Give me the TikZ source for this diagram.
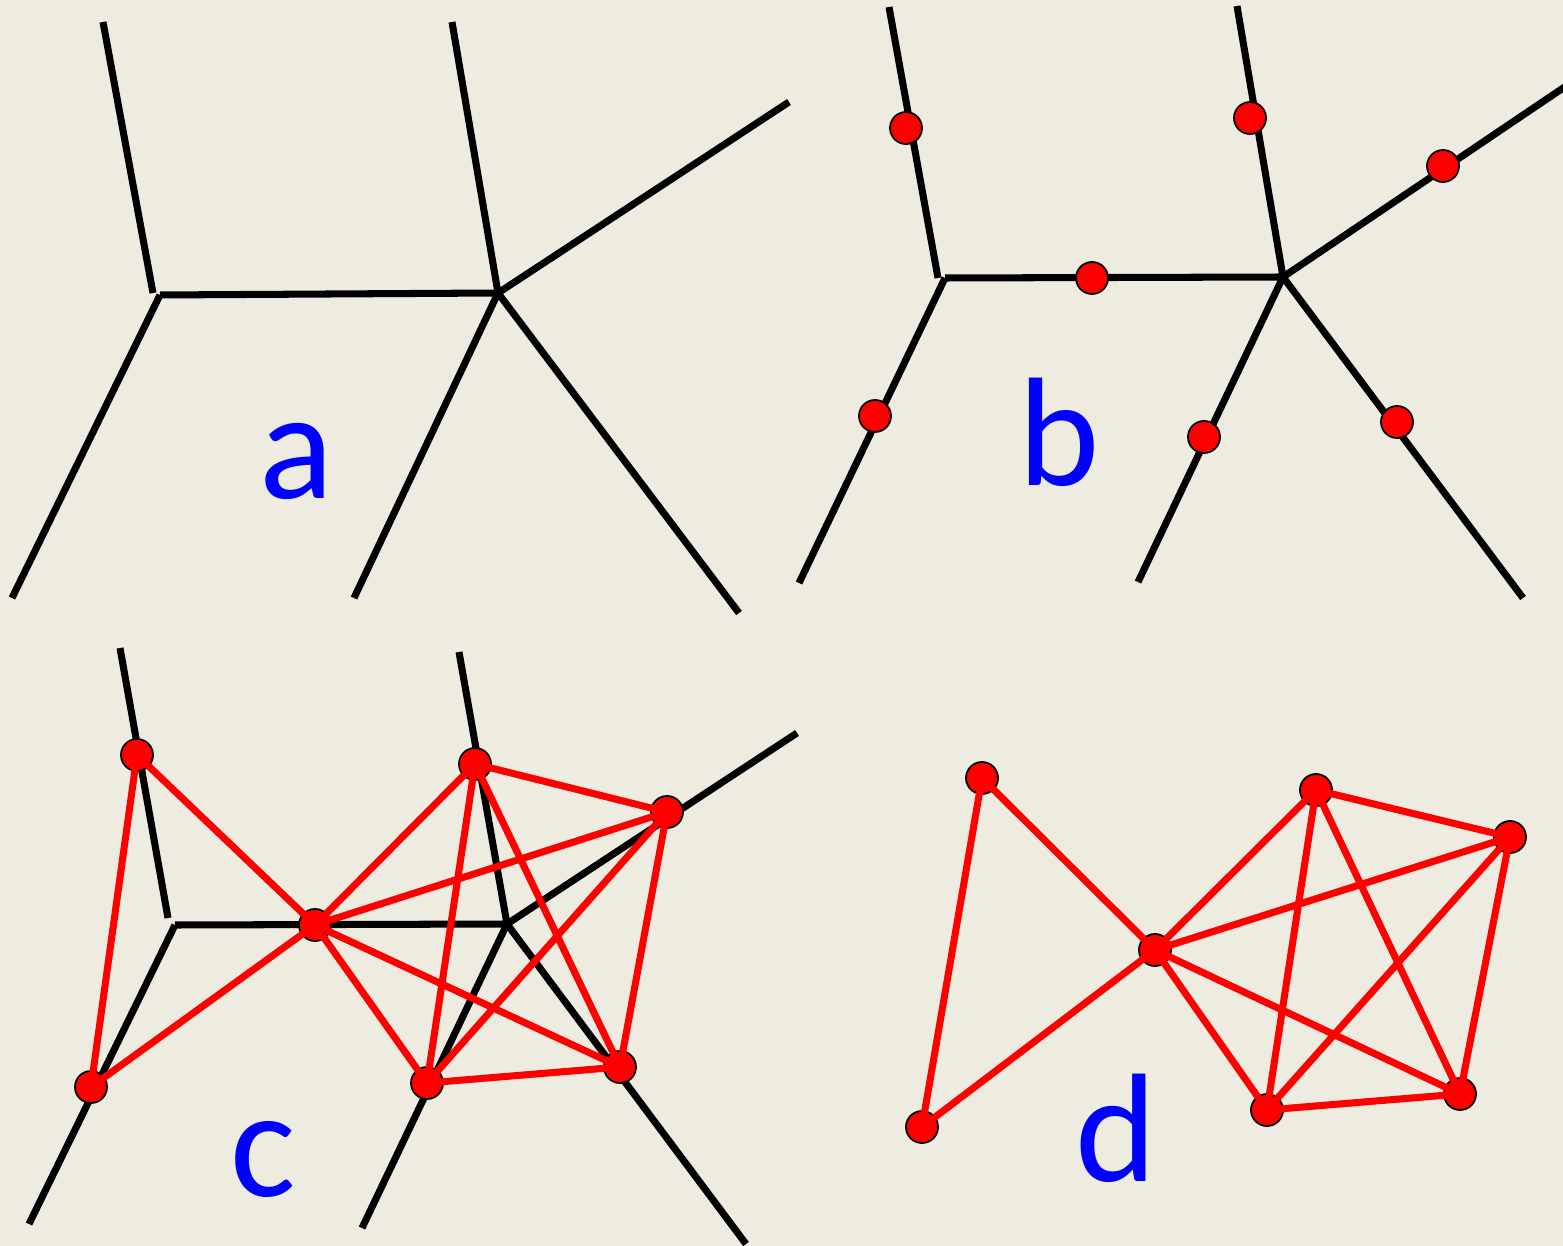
\documentclass[tikz,border=0pt]{standalone}
\usepackage{xcolor}
\usepackage{tikz}
\usepackage{fontspec}
\setmainfont{Carlito}
\definecolor{paperbg}{RGB}{238, 236, 225}
\definecolor{labelblue}{RGB}{0, 0, 255}
\definecolor{dotred}{RGB}{255, 0, 0}

\begin{document}
\begin{tikzpicture}[
        x=0.01cm, y=0.01cm,
        treeline/.style={line width=2pt, black},
        graphline/.style={line width=2pt, dotred},
        reddot/.style={circle, draw=black, line width=0.5pt, fill=dotred, minimum size=0.32cm, inner sep=0pt},
        panellabel/.style={anchor=base, inner sep=0pt, text=labelblue, font=\fontsize{44}{44}\selectfont}
    ]
        % Background
        \fill[paperbg] (0,0) rectangle (1563,-1246);
        \useasboundingbox (0,0) rectangle (1563,-1246);
        \clip (0,0) rectangle (1563,-1246);

        % Panel a: tree
        \coordinate (aL) at (160,-295);
        \coordinate (aLk) at (153,-293);
        \coordinate (aR) at (498,-293);
        \coordinate (aL1) at (103,-22);
        \coordinate (aL2) at (12,-598);
        \coordinate (aR1) at (452,-22);
        \coordinate (aR2) at (789,-102);
        \coordinate (aR3) at (354,-598);
        \coordinate (aR4) at (739,-613);
        \draw[treeline] (aL1) -- (aLk);
        \draw[treeline] (aL) -- (aL2);
        \draw[treeline] (aL) -- (aR);
        \draw[treeline] (aR) -- (aR1);
        \draw[treeline] (aR) -- (aR2);
        \draw[treeline] (aR) -- (aR3);
        \draw[treeline] (aR) -- (aR4);
        \node[panellabel] (labA) at (297,-499) {a};

        % Panel b: tree with points on the edges
        \coordinate (bL) at (945,-278);
        \coordinate (bLk) at (938,-278);
        \coordinate (bR) at (1283,-277);
        \coordinate (bL1) at (889,-7);
        \coordinate (bL2) at (799,-583);
        \coordinate (bR1) at (1237,-6);
        \coordinate (bR2) at (1575,-80);
        \coordinate (bR3) at (1138,-582);
        \coordinate (bR4) at (1523,-598);
        \draw[treeline] (bL1) -- (bLk);
        \draw[treeline] (bL) -- (bL2);
        \draw[treeline] (bL) -- (bR);
        \draw[treeline] (bR) -- (bR1);
        \draw[treeline] (bR) -- (bR2);
        \draw[treeline] (bR) -- (bR3);
        \draw[treeline] (bR) -- (bR4);
        \node[reddot] (b1) at (906,-128) {};
        \node[reddot] (b2) at (875,-416) {};
        \node[reddot] (b3) at (1092,-278) {};
        \node[reddot] (b4) at (1250,-118) {};
        \node[reddot] (b5) at (1443,-166) {};
        \node[reddot] (b6) at (1204,-437) {};
        \node[reddot] (b7) at (1397,-422) {};
        \node[panellabel] (labB) at (1059,-486) {b};

        % Panel c: tree with the line graph on top
        \coordinate (cL) at (175,-925);
        \coordinate (cLk) at (168,-918);
        \coordinate (cR) at (507,-924);
        \coordinate (cL1) at (120,-648);
        \coordinate (cL2) at (29,-1224);
        \coordinate (cR1) at (459,-652);
        \coordinate (cR2) at (797,-733);
        \coordinate (cR3) at (362,-1228);
        \coordinate (cR4) at (746,-1244);
        \draw[treeline] (cL1) -- (cLk);
        \draw[treeline] (cL) -- (cL2);
        \draw[treeline] (cL) -- (cR);
        \draw[treeline] (cR) -- (cR1);
        \draw[treeline] (cR) -- (cR2);
        \draw[treeline] (cR) -- (cR3);
        \draw[treeline] (cR) -- (cR4);
        \node[reddot] (c1) at (137,-755) {};
        \node[reddot] (c2) at (91,-1087) {};
        \node[reddot] (c3) at (315,-925) {};
        \node[reddot] (c4) at (475,-764) {};
        \node[reddot] (c5) at (667,-812) {};
        \node[reddot] (c6) at (427,-1083) {};
        \node[reddot] (c7) at (620,-1067) {};
        \draw[graphline] (c1.center) -- (c2.center) (c1.center) -- (c3.center) (c2.center) -- (c3.center)
            (c3.center) -- (c4.center) (c3.center) -- (c5.center) (c3.center) -- (c6.center) (c3.center) -- (c7.center)
            (c4.center) -- (c5.center) (c4.center) -- (c6.center) (c4.center) -- (c7.center)
            (c5.center) -- (c6.center) (c5.center) -- (c7.center) (c6.center) -- (c7.center);
        \node[panellabel] (labC) at (263,-1196) {c};

        % Panel d: line graph alone
        \node[reddot] (d1) at (982,-778) {};
        \node[reddot] (d2) at (922,-1127) {};
        \node[reddot] (d3) at (1155,-950) {};
        \node[reddot] (d4) at (1316,-790) {};
        \node[reddot] (d5) at (1510,-837) {};
        \node[reddot] (d6) at (1267,-1110) {};
        \node[reddot] (d7) at (1460,-1094) {};
        \draw[graphline] (d1.center) -- (d2.center) (d1.center) -- (d3.center) (d2.center) -- (d3.center)
            (d3.center) -- (d4.center) (d3.center) -- (d5.center) (d3.center) -- (d6.center) (d3.center) -- (d7.center)
            (d4.center) -- (d5.center) (d4.center) -- (d6.center) (d4.center) -- (d7.center)
            (d5.center) -- (d6.center) (d5.center) -- (d7.center) (d6.center) -- (d7.center);
        \node[panellabel] (labD) at (1116,-1181) {d};
    \end{tikzpicture}
\end{document}
